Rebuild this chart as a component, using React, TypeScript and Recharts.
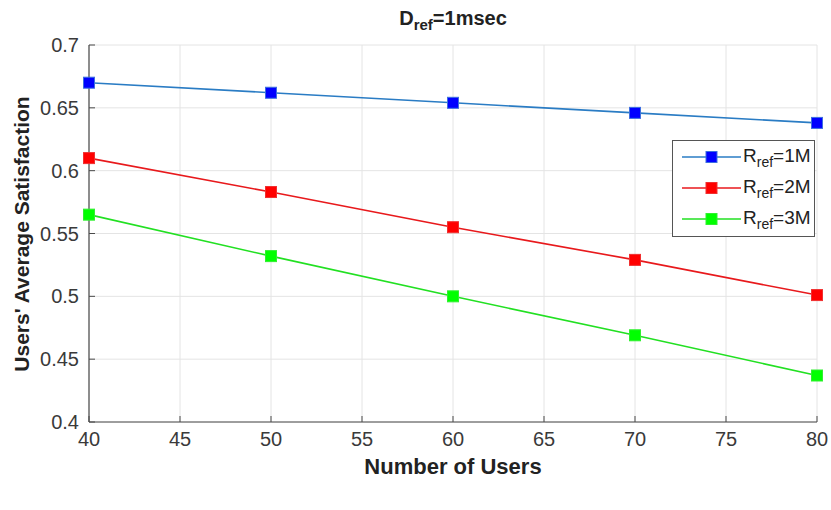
import React from 'react';
import { LineChart, Line, XAxis, YAxis, CartesianGrid } from 'recharts';

const users = [40, 50, 60, 70, 80];
const rref1M = [0.67, 0.662, 0.654, 0.646, 0.638];
const rref2M = [0.61, 0.583, 0.555, 0.529, 0.501];
const rref3M = [0.565, 0.532, 0.5, 0.469, 0.437];
const xTicks = [40, 45, 50, 55, 60, 65, 70, 75, 80];
const yTicks = [0.4, 0.45, 0.5, 0.55, 0.6, 0.65, 0.7];
const seriesLabels = ['1M', '2M', '3M'];

const series = [
  { key: 'r1', label: seriesLabels[0], line: '#2A7CC4', marker: '#0000FF', edge: '#3D6FE0' },
  { key: 'r2', label: seriesLabels[1], line: '#E8191C', marker: '#FF0000', edge: '#F03030' },
  { key: 'r3', label: seriesLabels[2], line: '#22E022', marker: '#00FF00', edge: '#30F030' },
];

const data = users.map((u, i) => ({ users: u, r1: rref1M[i], r2: rref2M[i], r3: rref3M[i] }));

const FONT = '"Liberation Sans", Arial, Helvetica, sans-serif';
const tickStyle = { fontSize: 20, fill: '#3a3a3a', fontFamily: FONT };
const AXIS = '#4a4a4a';

const makeDot = (fill: string, edge: string) => (props: any) => {
  const { cx, cy, index } = props;
  if (cx == null || cy == null) return <g key={index} />;
  const s = 11;
  return <rect key={index} x={cx - s / 2} y={cy - s / 2} width={s} height={s} fill={fill} stroke={edge} strokeWidth={1} />;
};

export default function App() {
  return (
    <div style={{ position: 'absolute', left: 0, top: 0, width: 831, height: 510, background: '#fff', fontFamily: FONT }}>
      <LineChart width={831} height={510} data={data} margin={{ top: 45, right: 14, bottom: 58, left: 29 }}>
        <CartesianGrid stroke="#e4e4e4" strokeWidth={1} vertical horizontal />
        <XAxis
          dataKey="users"
          type="number"
          domain={[40, 80]}
          ticks={xTicks}
          height={30}
          tick={tickStyle}
          tickSize={-6}
          tickMargin={16}
          axisLine={{ stroke: AXIS, strokeWidth: 1.2 }}
          tickLine={{ stroke: AXIS }}
        />
        <XAxis
          xAxisId="top"
          orientation="top"
          dataKey="users"
          type="number"
          domain={[40, 80]}
          ticks={xTicks}
          height={0}
          tickFormatter={() => ''}
          tickSize={-6}
          axisLine={{ stroke: AXIS, strokeWidth: 1.2 }}
          tickLine={{ stroke: AXIS }}
        />
        <YAxis
          type="number"
          domain={[0.4, 0.7]}
          ticks={yTicks}
          width={60}
          tick={tickStyle}
          tickSize={-6}
          tickMargin={16}
          axisLine={{ stroke: AXIS, strokeWidth: 1.2 }}
          tickLine={{ stroke: AXIS }}
        />
        <YAxis
          yAxisId="right"
          orientation="right"
          type="number"
          domain={[0.4, 0.7]}
          ticks={yTicks}
          width={0}
          tickFormatter={() => ''}
          tickSize={-6}
          axisLine={{ stroke: AXIS, strokeWidth: 1.2 }}
          tickLine={{ stroke: AXIS }}
        />
        {series.map((s) => (
          <Line
            key={s.key}
            dataKey={s.key}
            stroke={s.line}
            strokeWidth={1.6}
            dot={makeDot(s.marker, s.edge)}
            activeDot={false}
            isAnimationActive={false}
          />
        ))}
      </LineChart>

      <div style={{ position: 'absolute', left: 333, width: 240, top: 7, textAlign: 'center', fontWeight: 'bold', fontSize: 20, color: '#222' }}>
        D<sub style={{ fontSize: 15 }}>ref</sub>=1msec
      </div>

      <div style={{ position: 'absolute', left: 89, width: 728, top: 454, textAlign: 'center', fontWeight: 'bold', fontSize: 22, color: '#222' }}>
        Number of Users
      </div>

      <div
        style={{
          position: 'absolute',
          left: 22,
          top: 234,
          transform: 'translate(-50%, -50%) rotate(-90deg)',
          whiteSpace: 'nowrap',
          fontWeight: 'bold',
          fontSize: 21,
          color: '#222',
        }}
      >
        Users' Average Satisfaction
      </div>

      <div
        style={{
          position: 'absolute',
          left: 672,
          top: 140,
          width: 143,
          height: 97,
          boxSizing: 'border-box',
          border: '1.5px solid #555',
          background: '#fff',
        }}
      >
        {series.map((s, i) => (
          <div key={s.key} style={{ position: 'absolute', left: 0, top: 3 + i * 31, height: 26, width: '100%', display: 'flex', alignItems: 'center' }}>
            <svg width={70} height={26} style={{ flex: 'none' }}>
              <line x1={9} y1={13} x2={68} y2={13} stroke={s.line} strokeWidth={1.6} />
              <rect x={33} y={7.5} width={11} height={11} fill={s.marker} stroke={s.edge} />
            </svg>
            <span style={{ fontSize: 19, color: '#222', whiteSpace: 'nowrap' }}>
              R<sub style={{ fontSize: 14 }}>ref</sub>={s.label}
            </span>
          </div>
        ))}
      </div>
    </div>
  );
}
